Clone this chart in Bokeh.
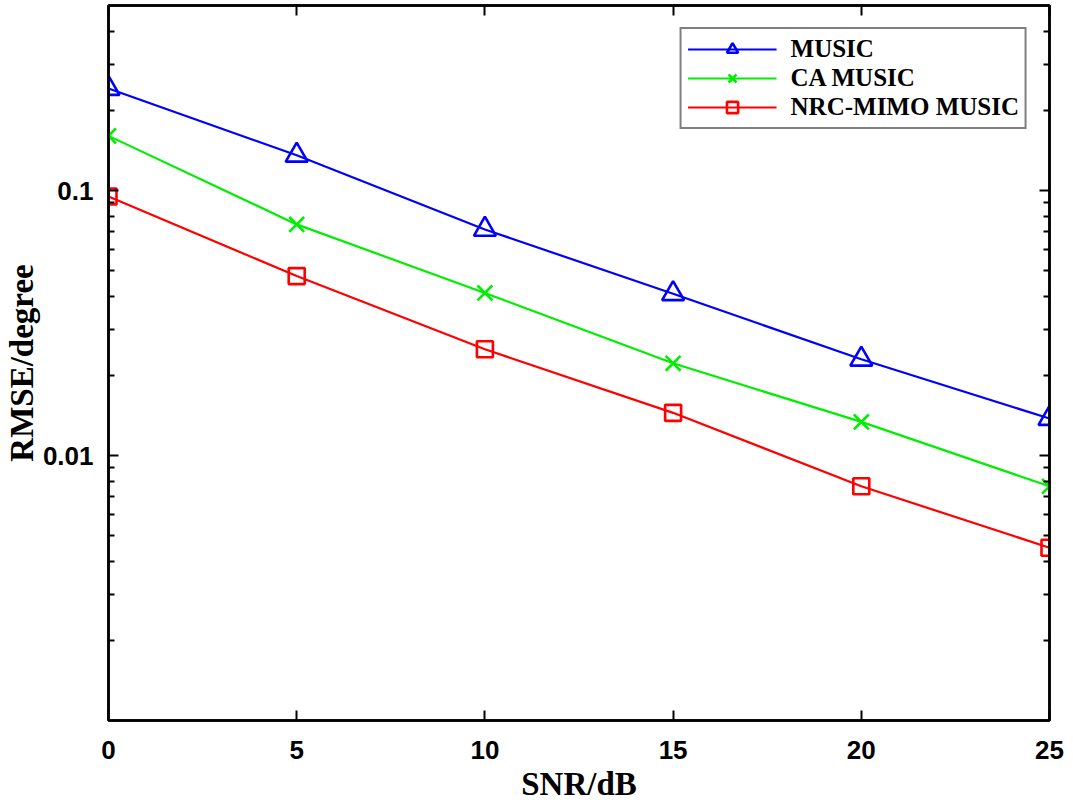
from bokeh.plotting import figure
from bokeh.models import (FixedTicker, LogAxis, LinearAxis, Legend, LegendItem, Range1d,
                          CustomJSTickFormatter)
from bokeh.embed import file_html
from bokeh.resources import INLINE

snr = [0, 5, 10, 15, 20, 25]
music = [0.243, 0.136, 0.0714, 0.0408, 0.0231, 0.0138]
ca_music = [0.161, 0.0746, 0.0411, 0.0223, 0.0134, 0.00766]
nrc_music = [0.095, 0.0476, 0.0252, 0.0145, 0.00766, 0.00449]
labels = ["MUSIC", "CA MUSIC", "NRC-MIMO MUSIC"]
x_ticks = [0, 5, 10, 15, 20, 25]
y_ticks = [0.01, 0.1]
y_minor = [0.002, 0.003, 0.004, 0.005, 0.006, 0.007, 0.008, 0.009,
           0.02, 0.03, 0.04, 0.05, 0.06, 0.07, 0.08, 0.09,
           0.2, 0.3, 0.4]
x_label = "SNR/dB"
y_label = "RMSE/degree"

p = figure(width=1073, height=804, y_axis_type="log", output_backend="svg",
           toolbar_location=None, x_range=Range1d(0, 25), y_range=Range1d(0.001, 0.5),
           min_border_left=108, min_border_right=24, min_border_top=5, min_border_bottom=79)
p.grid.visible = False
p.outline_line_color = "black"
p.outline_line_width = 2.5
p.background_fill_color = "white"
p.border_fill_color = "white"

tick_font = "Liberation Sans"

def style_axis(ax, show_labels=True):
    ax.axis_line_width = 2.5
    ax.axis_line_color = "black"
    ax.major_tick_in = 10
    ax.major_tick_out = 0
    ax.minor_tick_in = 6
    ax.minor_tick_out = 0
    ax.major_tick_line_width = 2
    ax.minor_tick_line_width = 2
    ax.major_tick_line_color = "black"
    ax.minor_tick_line_color = "black"
    ax.major_label_text_font = tick_font
    ax.major_label_text_font_style = "bold"
    ax.major_label_text_font_size = "26px"
    ax.major_label_text_color = "black"
    if show_labels:
        ax.formatter = CustomJSTickFormatter(code="return String(tick);")
    else:
        ax.formatter = CustomJSTickFormatter(code="return '';")
        ax.major_label_standoff = 0

xt = FixedTicker(ticks=x_ticks, minor_ticks=[])
yt = FixedTicker(ticks=y_ticks, minor_ticks=y_minor)

p.xaxis.ticker = xt
p.yaxis.ticker = yt
style_axis(p.xaxis[0])
style_axis(p.yaxis[0])
p.xaxis.major_label_standoff = 20
p.yaxis.major_label_standoff = 15
p.xaxis.axis_label = x_label
p.yaxis.axis_label = y_label
for ax in (p.xaxis[0], p.yaxis[0]):
    ax.axis_label_text_font = "Liberation Serif"
    ax.axis_label_text_font_style = "bold"
    ax.axis_label_text_font_size = "33px"
    ax.axis_label_text_color = "black"
    ax.axis_label_standoff = 0
p.xaxis.axis_label_standoff = 4

top = LinearAxis(ticker=FixedTicker(ticks=x_ticks, minor_ticks=[]))
style_axis(top, False)
p.add_layout(top, "above")
right = LogAxis(ticker=FixedTicker(ticks=y_ticks, minor_ticks=y_minor))
style_axis(right, False)
p.add_layout(right, "right")

colors = ["#0000ff", "#00ee00", "#ff0000"]
series = [music, ca_music, nrc_music]
markers = ["triangle", "x", "square"]
sizes = [22, 21, 16]

items = []
for lab, ys, c, m, s in zip(labels, series, colors, markers, sizes):
    ln = p.line(snr, ys, line_color=c, line_width=2.2)
    sc = p.scatter(snr, ys, marker=m, size=s, line_color=c, fill_color=None, line_width=2.6)
    items.append(LegendItem(label=lab, renderers=[ln, sc]))

leg = Legend(items=items, location="top_right", margin=22)
leg.label_text_font = "Liberation Serif"
leg.label_text_font_style = "bold"
leg.label_text_font_size = "25px"
leg.label_text_color = "black"
leg.glyph_width = 89
leg.glyph_height = 28
leg.label_height = 28
leg.label_standoff = 14
leg.spacing = 1
leg.padding = 6
leg.border_line_color = "black"
leg.border_line_width = 2
leg.background_fill_alpha = 1
p.add_layout(leg, "center")

open("out.html", "w").write(file_html(p, INLINE))
